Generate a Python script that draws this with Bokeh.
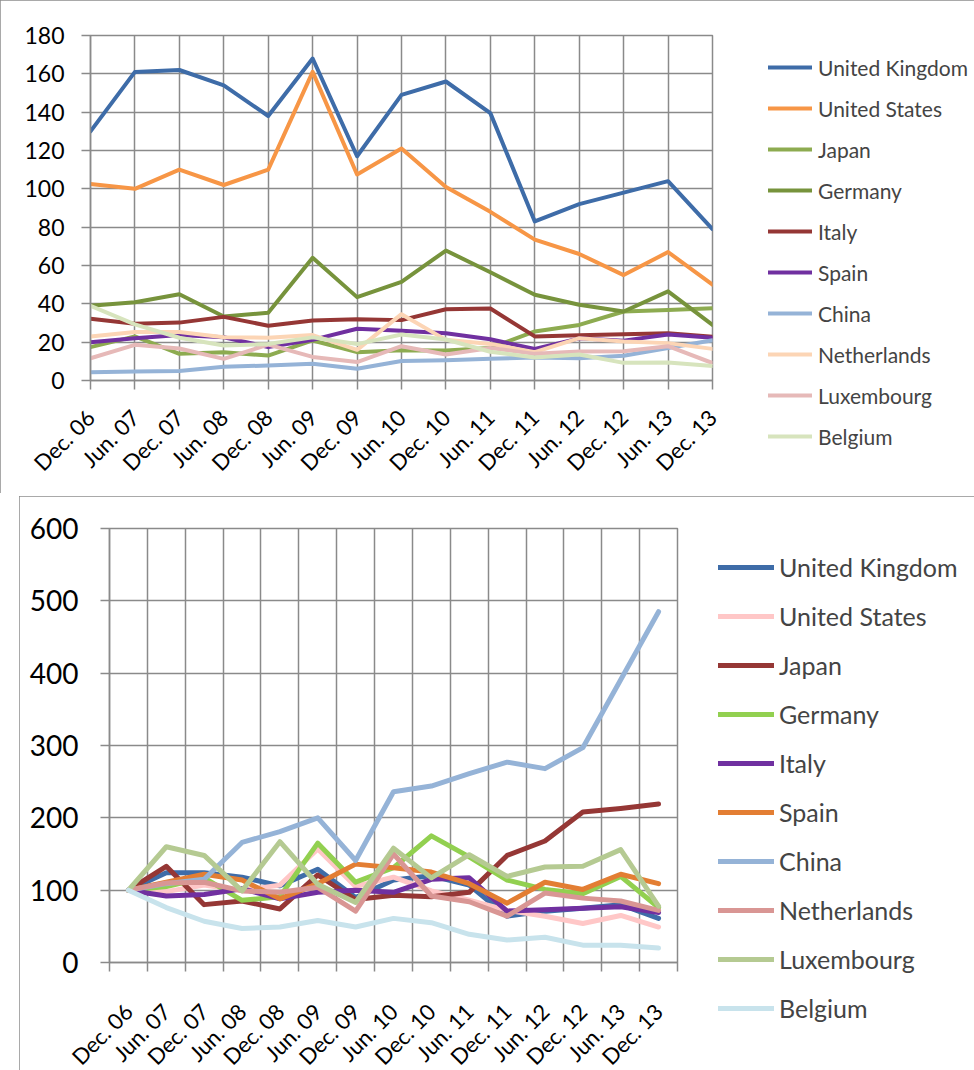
import math
from bokeh.plotting import figure
from bokeh.models import Range1d, FixedTicker, Legend, LegendItem
from bokeh.layouts import column
from bokeh.embed import file_html
from bokeh.resources import INLINE

periods = ["Dec. 06", "Jun. 07", "Dec. 07", "Jun. 08", "Dec. 08", "Jun. 09", "Dec. 09",
           "Jun. 10", "Dec. 10", "Jun. 11", "Dec. 11", "Jun. 12", "Dec. 12", "Jun. 13", "Dec. 13"]
countries = ["United Kingdom", "United States", "Japan", "Germany", "Italy", "Spain",
             "China", "Netherlands", "Luxembourg", "Belgium"]

# Top chart: levels
top_uk = [130, 161, 162, 154, 138, 168, 117, 149, 156, 139.5, 83, 92, 98, 104, 79]
top_us = [102.5, 100, 110, 102, 110, 161, 107.5, 121, 101, 88, 73.5, 66, 55, 67, 50]
top_japan = [17.4, 23, 13.9, 14.8, 13, 20.9, 14.8, 15.8, 15.6, 17, 25.6, 29, 36, 36.8, 37.7]
top_germany = [39, 40.8, 45, 33.4, 35.3, 64, 43.5, 51.5, 67.8, 56.5, 44.7, 39.5, 36, 46.5, 29]
top_italy = [32.2, 29.6, 30.2, 33.2, 28.6, 31.3, 32, 31.5, 37.2, 37.6, 23, 23.6, 24.1, 24.6, 22.8]
top_spain = [20, 22, 23.8, 22.6, 17.4, 21.2, 27, 26, 24.7, 21.5, 16.4, 22, 20.8, 24, 22.3]
top_china = [4.3, 4.7, 5, 7.2, 7.8, 8.7, 6.1, 10.2, 10.6, 11.3, 12, 11.6, 12.9, 17, 21]
top_netherlands = [23, 25.3, 25.3, 22.6, 22.3, 23.7, 16, 34.6, 21.2, 19.1, 14.8, 22.1, 20.3, 19.5, 16.5]
top_luxembourg = [11.6, 18.6, 16.7, 11.3, 18.7, 12.3, 9.6, 17.9, 13.6, 17, 13.9, 15.1, 15.3, 17.9, 9.1]
top_belgium = [39, 29.3, 22.3, 18.3, 19, 22.5, 19, 24, 21.4, 15, 12, 13.6, 9.2, 9.4, 7.6]

# Bottom chart: index (Dec. 06 = 100)
bot_uk = [100, 124, 124, 118, 106, 129, 90, 114, 120, 107, 64, 71, 75, 80, 61]
bot_us = [100, 98, 107, 99.5, 107, 157, 105, 118, 99, 86, 72, 64, 54, 65, 49]
bot_japan = [100, 133, 80, 85, 74, 121, 87, 93, 91, 97, 148, 168, 208, 213, 219]
bot_germany = [100, 105, 117, 86, 91, 165, 111, 131, 175, 146, 114, 101, 95, 119, 76]
bot_italy = [100, 92, 94, 102, 88, 97, 100, 97, 115, 117, 71, 73, 75, 77, 69]
bot_spain = [100, 111, 122, 114, 88, 109, 136, 131, 125, 109, 82, 111, 101, 122, 109]
bot_china = [100, 109, 115, 166, 181, 200, 141, 236, 244, 261, 277, 268, 297, 391, 485]
bot_netherlands = [100, 110, 111, 99, 97, 104, 71, 150, 92, 84, 64, 96, 89, 85, 72]
bot_luxembourg = [100, 160, 148, 99, 167, 108, 83, 158, 117, 149, 119, 132, 133, 156, 78]
bot_belgium = [100, 76, 57, 47, 49, 58, 49, 61, 55, 39, 31, 35, 24, 24, 20]

top_series = [top_uk, top_us, top_japan, top_germany, top_italy, top_spain,
              top_china, top_netherlands, top_luxembourg, top_belgium]
bot_series = [bot_uk, bot_us, bot_japan, bot_germany, bot_italy, bot_spain,
              bot_china, bot_netherlands, bot_luxembourg, bot_belgium]

top_colors = ["#3E6CA8", "#F79646", "#8DAB50", "#77933C", "#953735", "#7030A0",
              "#95B3D7", "#FCD5B5", "#E6B9B8", "#D7E4BD"]
bot_colors = ["#3E6CA8", "#FFC7C7", "#953735", "#92D050", "#7030A0", "#E37E33",
              "#95B3D7", "#D99694", "#B5CA92", "#C8E3EC"]

FONT = "Lato"
GRID = "#8a8a8a"
BORDER = {"outline": "1.5px solid #8c8c8c", "outline-offset": "-1px"}


def style_axes(p, ylab_size, xlab_size, ystandoff, xstandoff):
    for ax in (p.xaxis[0], p.yaxis[0]):
        ax.axis_line_color = GRID
        ax.axis_line_width = 1.5
        ax.major_tick_line_color = GRID
        ax.major_tick_line_width = 1.5
        ax.major_tick_in = 0
        ax.major_tick_out = 9
        ax.minor_tick_line_color = None
        ax.major_label_text_font = FONT
        ax.major_label_text_color = "#000000"
    p.yaxis.major_label_text_font_size = ylab_size
    p.xaxis.major_label_text_font_size = xlab_size
    p.yaxis.major_label_standoff = ystandoff
    p.xaxis.major_label_standoff = xstandoff
    p.xaxis.major_label_orientation = math.pi / 4
    p.grid.grid_line_color = GRID
    p.grid.grid_line_width = 1.5
    p.outline_line_color = GRID
    p.outline_line_width = 1.5
    p.background_fill_color = "white"
    p.border_fill_color = "white"


# ---------------- Top chart ----------------
n = len(periods)
p1 = figure(frame_width=622, frame_height=345,
            min_border_left=90, min_border_right=262, min_border_top=35, min_border_bottom=113,
            x_range=Range1d(0, n - 1), y_range=Range1d(0, 180),
            output_backend="svg", toolbar_location=None)
style_axes(p1, "23px", "22px", 17, 24)
p1.xaxis.ticker = FixedTicker(ticks=list(range(n)))
p1.xaxis.major_label_overrides = {i: lab for i, lab in enumerate(periods)}
p1.yaxis.ticker = FixedTicker(ticks=list(range(0, 181, 20)))

xs_top = list(range(n))
items1 = []
for name, vals, col in zip(countries, top_series, top_colors):
    r = p1.line(xs_top, vals, line_color=col, line_width=4, line_join="round", line_cap="round")
    items1.append(LegendItem(label=name, renderers=[r]))
leg1 = Legend(items=items1, location=(56, -69), glyph_width=44, glyph_height=26,
              label_height=26, spacing=15, padding=0, margin=0, label_standoff=6,
              label_text_font=FONT, label_text_font_size="21px",
              border_line_color=None, background_fill_alpha=0)
p1.add_layout(leg1, "right")
p1.styles = BORDER

# ---------------- Bottom chart ----------------
p2 = figure(frame_width=568, frame_height=434,
            min_border_left=90, min_border_right=297, min_border_top=32, min_border_bottom=104,
            x_range=Range1d(0, n), y_range=Range1d(0, 600),
            output_backend="svg", toolbar_location=None)
style_axes(p2, "28px", "22px", 22, 36)
p2.xaxis.ticker = FixedTicker(ticks=[i + 0.5 for i in range(n)], minor_ticks=list(range(n + 1)))
p2.xaxis.major_label_overrides = {i + 0.5: lab for i, lab in enumerate(periods)}
p2.xaxis.major_tick_out = 0
p2.xaxis.minor_tick_line_color = GRID
p2.xaxis.minor_tick_line_width = 1.5
p2.xaxis.minor_tick_in = 0
p2.xaxis.minor_tick_out = 9
p2.xgrid.grid_line_color = None
p2.xgrid.minor_grid_line_color = GRID
p2.xgrid.minor_grid_line_width = 1.5
p2.yaxis.ticker = FixedTicker(ticks=list(range(0, 601, 100)))

xs_bot = [i + 0.5 for i in range(n)]
items2 = []
for name, vals, col in zip(countries, bot_series, bot_colors):
    r = p2.line(xs_bot, vals, line_color=col, line_width=5, line_join="round", line_cap="round")
    items2.append(LegendItem(label=name, renderers=[r]))
leg2 = Legend(items=items2, location=(41, -61), glyph_width=56, glyph_height=30,
              label_height=30, spacing=19, padding=0, margin=0, label_standoff=5,
              label_text_font=FONT, label_text_font_size="25px",
              border_line_color=None, background_fill_alpha=0)
p2.add_layout(leg2, "right")
p2.styles = BORDER
p2.margin = (0, 0, 0, 19)

layout = column(p1, p2, spacing=3)
open("out.html", "w").write(file_html(layout, INLINE))
